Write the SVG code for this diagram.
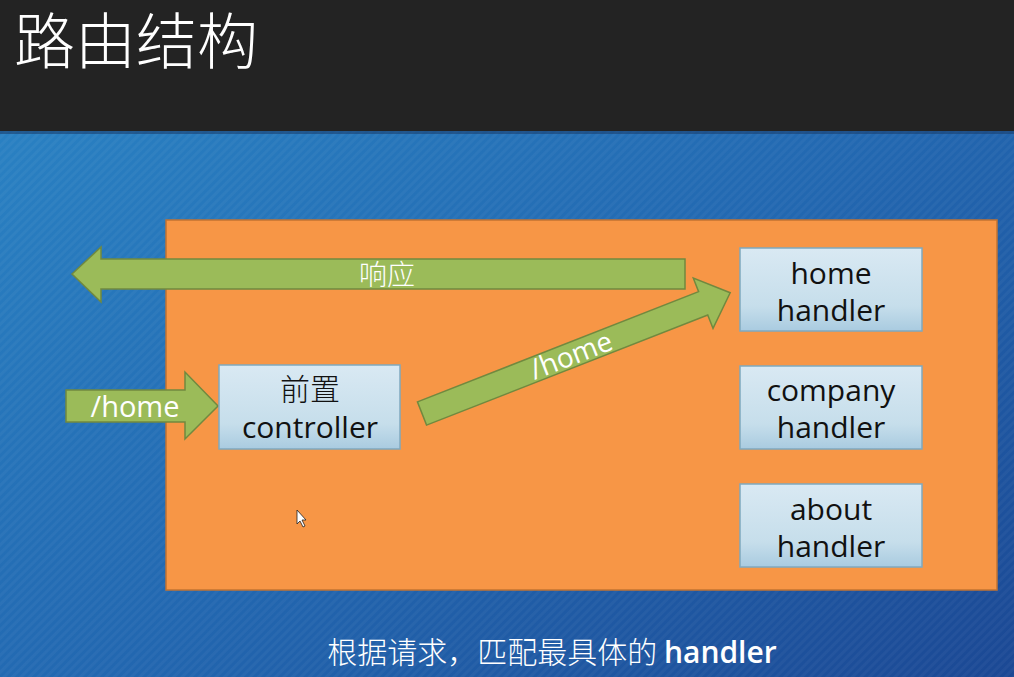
<svg xmlns="http://www.w3.org/2000/svg" width="1014" height="677" viewBox="0 0 1014 677">
  <defs>
    <linearGradient id="bg" x1="0" y1="0" x2="1" y2="1">
      <stop offset="0" stop-color="#2b86c6"/>
      <stop offset="0.55" stop-color="#2267b0"/>
      <stop offset="1" stop-color="#1b4894"/>
    </linearGradient>
    <pattern id="stripes" width="6" height="6" patternUnits="userSpaceOnUse" patternTransform="rotate(-45)">
      <rect width="6" height="3" fill="#ffffff" fill-opacity="0.035"/>
    </pattern>
    <linearGradient id="boxFill" x1="0" y1="0" x2="0" y2="1">
      <stop offset="0" stop-color="#d9e9f3"/>
      <stop offset="0.7" stop-color="#c6deeb"/>
      <stop offset="1" stop-color="#a9cbe0"/>
    </linearGradient>
    <style>
      .box { fill: url(#boxFill); stroke: #7fa9bf; stroke-width: 1.5; }
      .arrow { fill: #9bbb59; stroke: #71893f; stroke-width: 1.5; }
      .label { font-family: "Open Sans", "Noto Sans CJK SC", sans-serif; font-size: 30px; fill: #111; text-anchor: middle; }
      .cn { font-family: "Noto Sans CJK SC", sans-serif; }
      .white { fill: #ffffff; }
    </style>
  </defs>

  <!-- slide background -->
  <rect x="0" y="0" width="1014" height="677" fill="url(#bg)"/>
  <rect x="0" y="0" width="1014" height="677" fill="url(#stripes)"/>

  <!-- title bar -->
  <rect x="0" y="0" width="1014" height="131" fill="#232323"/>
  <rect x="0" y="131" width="1014" height="3" fill="#1a3f6e" opacity="0.6"/>
  <text x="14" y="64" font-family="Noto Sans CJK SC, sans-serif" font-size="61" font-weight="300" fill="#ffffff">路由结构</text>

  <!-- orange container -->
  <g id="container">
    <rect x="166" y="220" width="831" height="370" fill="#f79646" stroke="#c27332" stroke-width="1.5"/>
  </g>

  <!-- connectors -->
  <g id="connectors">
    <!-- response arrow pointing left -->
    <g id="response">
      <polygon class="arrow" points="685,259 685,289 101,289 101,302 72,274 101,247 101,259"/>
      <text x="387" y="285" class="cn white" font-size="28" font-weight="300" text-anchor="middle">响应</text>
    </g>
    <!-- incoming request -->
    <g id="request">
      <polygon class="arrow" points="66,390 185,390 185,372 218,406 185,439 185,422 66,422"/>
      <text x="135" y="417" font-family="Open Sans, sans-serif" font-size="29" fill="#ffffff" text-anchor="middle">/home</text>
    </g>
    <!-- dispatch to home handler -->
    <g id="dispatch" transform="translate(422,413.5) rotate(-21.4)">
      <polygon class="arrow" points="0,-12.5 302,-12.5 302,-27 331,0 302,27 302,12.5 0,12.5"/>
      <text x="160" y="10" font-family="Open Sans, sans-serif" font-size="28" fill="#ffffff" text-anchor="middle">/home</text>
    </g>
  </g>

  <!-- front controller -->
  <g id="controller">
    <rect class="box" x="219" y="365" width="181" height="84"/>
    <text class="label cn" x="310" y="400" font-weight="300">前置</text>
    <text class="label" x="310" y="438">controller</text>
  </g>

  <!-- handlers -->
  <g id="home-handler">
    <rect class="box" x="740" y="248" width="182" height="83"/>
    <text class="label" x="831" y="284">home</text>
    <text class="label" x="831" y="321">handler</text>
  </g>
  <g id="company-handler">
    <rect class="box" x="740" y="366" width="182" height="83"/>
    <text class="label" x="831" y="401">company</text>
    <text class="label" x="831" y="438">handler</text>
  </g>
  <g id="about-handler">
    <rect class="box" x="740" y="484" width="182" height="83"/>
    <text class="label" x="831" y="520">about</text>
    <text class="label" x="831" y="557">handler</text>
  </g>

  <!-- mouse pointer -->
  <polygon points="297,510 297,524 300,521 303,527 305,526 302,520 306,520" fill="#ffffff" stroke="#222" stroke-width="0.8"/>

  <!-- caption -->
  <text x="552" y="663" font-family="Open Sans, Noto Sans CJK SC, sans-serif" font-size="30" fill="#ffffff" text-anchor="middle"><tspan font-family="Noto Sans CJK SC, sans-serif" font-weight="300">根据请求，匹配最具体的 </tspan><tspan font-weight="600">handler</tspan></text>
</svg>
